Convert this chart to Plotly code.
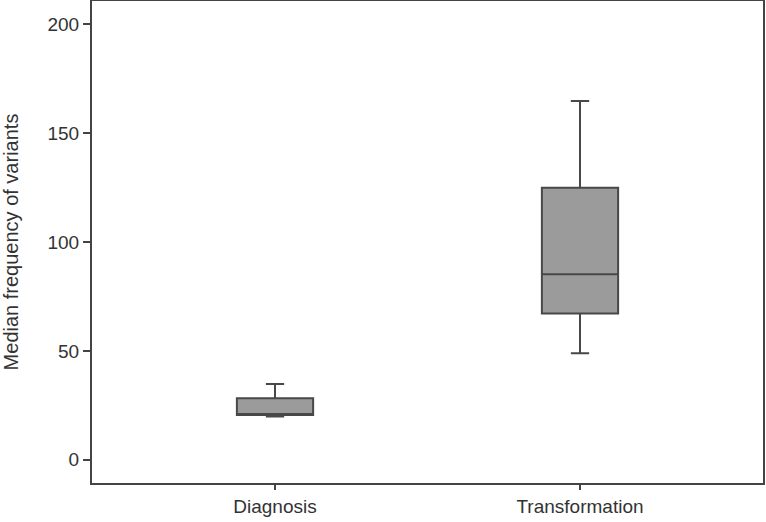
import plotly.graph_objects as go

categories = ["Diagnosis", "Transformation"]
lower_whisker = [19.8, 48.9]
q1 = [20.5, 67.2]
median = [21.0, 85.2]
q3 = [28.2, 124.9]
upper_whisker = [34.8, 164.8]
y_ticks = [0, 50, 100, 150, 200]

fig = go.Figure()
fig.add_trace(go.Box(
    x=categories,
    q1=q1, median=median, q3=q3,
    lowerfence=lower_whisker, upperfence=upper_whisker,
    fillcolor="#9b9b9b",
    line=dict(color="#484848", width=2),
    width=0.25,
    whiskerwidth=0.24,
    boxpoints=False,
    showlegend=False,
    hoverinfo="skip",
))

font_family = "Liberation Sans, Arial, sans-serif"
fig.update_layout(
    width=766, height=522,
    margin=dict(l=92, r=3, t=1, b=39),
    plot_bgcolor="white", paper_bgcolor="white",
    font=dict(family=font_family, color="#333333", size=19),
    xaxis=dict(
        type="category", range=[-0.6, 1.6], automargin=False,
        showline=True, linecolor="#444444", linewidth=2, mirror=True,
        ticks="outside", ticklen=5, tickwidth=2, tickcolor="#444444",
        showgrid=False, zeroline=False,
        tickfont=dict(size=19, color="#333333"),
    ),
    yaxis=dict(
        range=[-10.7, 210.7], automargin=False,
        tickvals=y_ticks,
        showline=True, linecolor="#444444", linewidth=2, mirror=True,
        ticks="outside", ticklen=7, tickwidth=2, tickcolor="#444444",
        showgrid=False, zeroline=False,
        tickfont=dict(size=19, color="#333333"),
        title=dict(text="Median frequency of variants", font=dict(size=20, color="#333333"), standoff=28),
    ),
)

fig.write_html(
    "out.html",
    config={"displayModeBar": False},
    post_script="document.body.style.margin='0';document.body.style.overflow='hidden';",
)
